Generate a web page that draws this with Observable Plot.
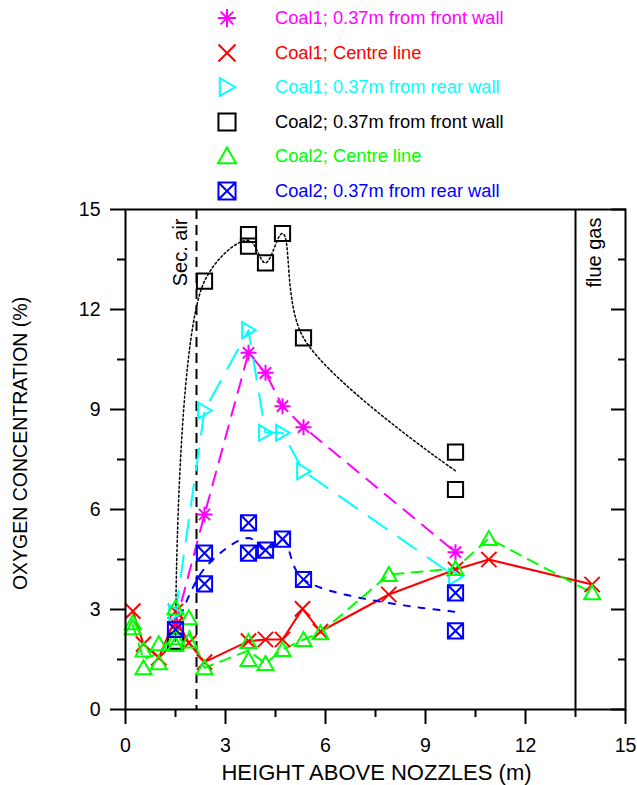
<!DOCTYPE html>
<html><head><meta charset="utf-8">
<script src="https://cdn.jsdelivr.net/npm/d3@7"></script>
<script src="https://cdn.jsdelivr.net/npm/@observablehq/plot@0.6"></script>
<style>
body{margin:0;background:#fff;font-family:"Liberation Sans",Arial,sans-serif;}
#legend{position:relative;height:180px;width:637px;}
.row{position:absolute;left:0;height:34px;display:flex;align-items:center;}
.row svg{margin-left:215px;display:block;}
.row span{margin-left:36px;font-size:18.3px;white-space:nowrap;}
#chart svg{display:block;}
</style></head><body>
<div id="legend"></div>
<div id="chart"></div>
<script>
// ---- tick values ----
const xTicksMajor = [0, 3, 6, 9, 12, 15];
const xTicksMinor = [1.5, 4.5, 7.5, 10.5, 13.5];
const yTicksMajor = [0, 3, 6, 9, 12, 15];
const yTicksMinor = [1.5, 4.5, 7.5, 10.5, 13.5];
const xTitle = "HEIGHT ABOVE NOZZLES (m)";
const yTitle = "OXYGEN CONCENTRATION (%)";
const secAirX = 2.13, secAirLabel = "Sec. air";
const flueGasX = 13.5, flueGasLabel = "flue gas";

// ---- series ----
const seriesNames = [
  "Coal1; 0.37m from front wall",
  "Coal1; Centre line",
  "Coal1; 0.37m from rear wall",
  "Coal2; 0.37m from front wall",
  "Coal2; Centre line",
  "Coal2; 0.37m from rear wall"
];
const seriesColors = ["#ff00ff", "#ff0000", "#00ffff", "#000000", "#00ff00", "#0000ff"];

const c1FrontX = [1.5, 2.37, 3.69, 4.2, 4.71, 5.34, 9.9];
const c1FrontY = [2.55, 5.85, 10.7, 10.1, 9.1, 8.47, 4.72];

const c1CentreX = [0.22, 0.54, 1.0, 1.5, 1.5, 1.9, 2.37, 3.69, 4.2, 4.71, 5.31, 5.85, 7.9, 9.9, 10.9, 14.0];
const c1CentreY = [2.95, 1.96, 1.55, 2.94, 2.55, 2.0, 1.42, 2.05, 2.1, 2.1, 3.02, 2.34, 3.45, 4.2, 4.5, 3.75];

const c1RearX = [1.5, 2.37, 3.69, 4.2, 4.71, 5.34, 9.9];
const c1RearY = [2.9, 8.97, 11.38, 8.3, 8.3, 7.15, 3.98];

const c2FrontX = [1.5, 2.37, 3.69, 3.69, 4.2, 4.71, 5.34, 9.9, 9.9];
const c2FrontY = [2.05, 12.85, 14.25, 13.9, 13.4, 14.28, 11.15, 7.72, 6.6];

const c2CentreX = [0.22, 0.22, 0.54, 0.54, 1.0, 1.0, 1.5, 1.5, 1.5, 1.9, 1.9, 2.37, 3.69, 3.69, 4.2, 4.71, 5.34, 5.85, 7.9, 9.9, 10.9, 14.0];
const c2CentreY = [2.6, 2.45, 1.78, 1.25, 1.97, 1.4, 3.05, 2.15, 1.95, 2.75, 2.05, 1.25, 2.04, 1.5, 1.38, 1.8, 2.1, 2.3, 4.05, 4.23, 5.13, 3.5];

const c2RearX = [1.5, 2.37, 2.37, 3.69, 3.69, 4.2, 4.71, 5.34, 9.9, 9.9];
const c2RearY = [2.4, 4.69, 3.77, 5.6, 4.69, 4.78, 5.11, 3.9, 3.5, 2.36];

// ---- symbols ----
const rad = s => Math.sqrt(s / Math.PI);
const symStar = {draw(c, s){const r = rad(s), d = r*Math.SQRT1_2;
  c.moveTo(-r,0);c.lineTo(r,0);c.moveTo(0,-r);c.lineTo(0,r);
  c.moveTo(-d,-d);c.lineTo(d,d);c.moveTo(-d,d);c.lineTo(d,-d);}};
const symTimes = {draw(c, s){const d = rad(s)*0.95;
  c.moveTo(-d,-d);c.lineTo(d,d);c.moveTo(-d,d);c.lineTo(d,-d);}};
const symTriRight = {draw(c, s){const r = rad(s);
  c.moveTo(-r*0.8,-r);c.lineTo(r*0.9,0);c.lineTo(-r*0.8,r);c.closePath();}};
const symSquare = {draw(c, s){const r = rad(s)*0.95; c.rect(-r,-r,2*r,2*r);}};
const symTriUp = {draw(c, s){const r = rad(s);
  c.moveTo(0,-r*0.95);c.lineTo(r,r*0.8);c.lineTo(-r,r*0.8);c.closePath();}};
const symBoxX = {draw(c, s){const r = rad(s)*0.95; c.rect(-r,-r,2*r,2*r);
  c.moveTo(-r,-r);c.lineTo(r,r);c.moveTo(-r,r);c.lineTo(r,-r);}};
const seriesSymbols = [symStar, symTimes, symTriRight, symSquare, symTriUp, symBoxX];

const seriesXs = [c1FrontX, c1CentreX, c1RearX, c2FrontX, c2CentreX, c2RearX];
const seriesYs = [c1FrontY, c1CentreY, c1RearY, c2FrontY, c2CentreY, c2RearY];
const lineStyles = [
  {dash: "14,10", width: 2, curve: "linear"},
  {dash: null, width: 2, curve: "linear"},
  {dash: "22,14", width: 2, curve: "linear"},
  {dash: "2,2.5", width: 1.5, curve: "catmull-rom"},
  {dash: "11,8", width: 2, curve: "linear"},
  {dash: "6,9", width: 2, curve: "catmull-rom"}
];

// ---- legend ----
const legend = document.getElementById("legend");
seriesNames.forEach((name, i) => {
  const row = document.createElement("div");
  row.className = "row";
  row.style.top = (1 + i * 34.5) + "px";
  const svg = d3.create("svg").attr("width", 24).attr("height", 24);
  svg.append("path")
    .attr("transform", "translate(12,12)")
    .attr("d", d3.symbol(seriesSymbols[i], Math.PI * 9 * 9)())
    .attr("fill", "none").attr("stroke", seriesColors[i]).attr("stroke-width", 2);
  row.appendChild(svg.node());
  const span = document.createElement("span");
  span.textContent = name;
  span.style.color = seriesColors[i];
  row.appendChild(span);
  legend.appendChild(row);
});

// ---- chart ----
const lineMarks = [], dotMarks = [];
seriesNames.forEach((name, i) => {
  const pts = seriesXs[i].map((x, j) => ({x, y: seriesYs[i][j]}));
  const means = d3.rollups(pts, v => d3.mean(v, d => d.y), d => d.x)
    .map(([x, y]) => ({x, y})).sort((a, b) => a.x - b.x);
  lineMarks.push(Plot.line(means, {x: "x", y: "y", stroke: seriesColors[i],
    strokeWidth: lineStyles[i].width, strokeDasharray: lineStyles[i].dash, curve: lineStyles[i].curve}));
  dotMarks.push(Plot.dot(pts, {x: "x", y: "y", symbol: seriesSymbols[i], r: 8,
    stroke: seriesColors[i], strokeWidth: 2, fill: "none"}));
});

const chart = Plot.plot({
  width: 637, height: 605,
  marginTop: 29, marginBottom: 76, marginLeft: 125, marginRight: 12,
  style: {fontFamily: "'Liberation Sans', Arial, sans-serif", background: "white", color: "black"},
  x: {domain: [0, 15]},
  y: {domain: [0, 15]},
  marks: [
    Plot.ruleX([secAirX], {stroke: "black", strokeWidth: 2, strokeDasharray: "10,6"}),
    Plot.ruleX([flueGasX], {stroke: "black", strokeWidth: 2}),
    Plot.text([{x: secAirX, y: 15, t: secAirLabel}], {x: "x", y: "y", text: "t", rotate: -90,
      textAnchor: "end", lineAnchor: "middle", dx: -16, dy: 9, fontSize: 20}),
    Plot.text([{x: flueGasX, y: 15, t: flueGasLabel}], {x: "x", y: "y", text: "t", rotate: -90,
      textAnchor: "end", lineAnchor: "middle", dx: 19, dy: 8, fontSize: 20}),
    ...lineMarks,
    ...dotMarks,
    Plot.frame({stroke: "black", strokeWidth: 2}),
    Plot.axisX({ticks: xTicksMajor, tickSize: 15, tickPadding: 14, fontSize: 19.5, strokeWidth: 2, label: null}),
    Plot.axisX({ticks: xTicksMinor, tickSize: 8, tickFormat: () => "", strokeWidth: 2, label: null}),
    Plot.axisY({ticks: yTicksMajor, tickSize: 15, tickPadding: 10, fontSize: 19.5, strokeWidth: 2, label: null}),
    Plot.axisY({ticks: yTicksMinor, tickSize: 8, tickFormat: () => "", strokeWidth: 2, label: null}),
    Plot.axisY({anchor: "right", ticks: yTicksMajor, tickSize: -15, tickFormat: () => "", strokeWidth: 2, label: null}),
    Plot.axisY({anchor: "right", ticks: yTicksMinor, tickSize: -8, tickFormat: () => "", strokeWidth: 2, label: null}),
    Plot.text([xTitle], {text: d => d, frameAnchor: "bottom", lineAnchor: "middle", textAnchor: "middle", dx: 1, dy: 63, fontSize: 22}),
    Plot.text([yTitle], {text: d => d, frameAnchor: "left", lineAnchor: "middle", textAnchor: "middle", rotate: -90, dx: -105, dy: -16, fontSize: 19.5})
  ]
});
document.getElementById("chart").appendChild(chart);
</script>
</body></html>
